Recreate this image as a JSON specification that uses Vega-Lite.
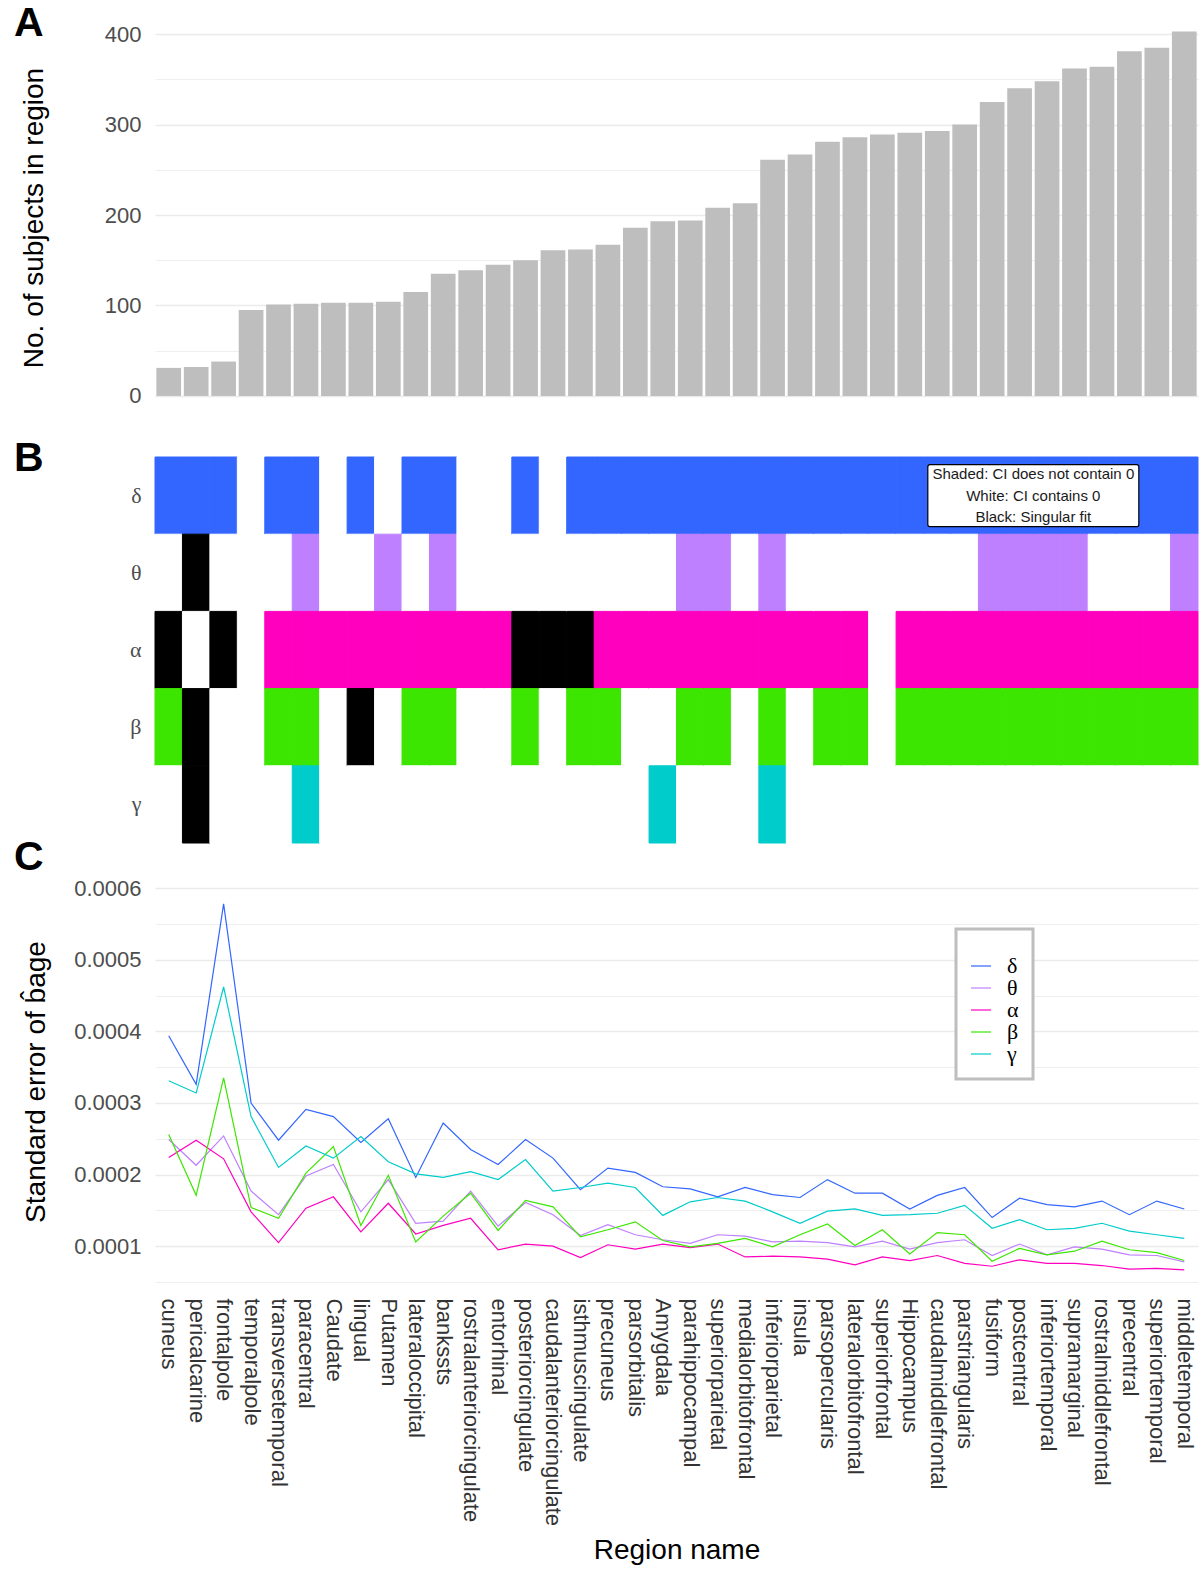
{
"$schema": "https://vega.github.io/schema/vega-lite/v6.json",
"padding": {"left": 14, "top": 2, "right": 3, "bottom": 5},
"bounds": "flush",
"spacing": 38,
"config": {
  "font": "Liberation Sans",
  "view": {"stroke": null, "fill": "#ffffff"},
  "axis": {"domain": false, "ticks": false, "labelFont": "Liberation Sans", "labelFontSize": 22, "labelColor": "#4D4D4D", "titleFont": "Liberation Sans", "titleFontSize": 28, "titleFontWeight": "normal", "titleColor": "#000000", "gridColor": "#EBEBEB"},
  "legend": {"strokeWidth": 3},
  "title": {"font": "Liberation Sans", "fontSize": 41, "fontWeight": "bold", "color": "#000000", "anchor": "start", "frame": "group", "baseline": "alphabetic", "dx": -141}
},
"resolve": {"scale": {"x": "independent", "y": "independent", "color": "independent"}, "legend": {"color": "independent"}},
"datasets": {
"bars": [
{"region":"cuneus","n":31},{"region":"pericalcarine","n":32},{"region":"frontalpole","n":38},{"region":"temporalpole","n":95},{"region":"transversetemporal","n":101},{"region":"paracentral","n":102},{"region":"Caudate","n":103},{"region":"lingual","n":103},{"region":"Putamen","n":104},{"region":"lateraloccipital","n":115},{"region":"bankssts","n":135},{"region":"rostralanteriorcingulate","n":139},{"region":"entorhinal","n":145},{"region":"posteriorcingulate","n":150},{"region":"caudalanteriorcingulate","n":161},{"region":"isthmuscingulate","n":162},{"region":"precuneus","n":167},{"region":"parsorbitalis","n":186},{"region":"Amygdala","n":193},{"region":"parahippocampal","n":194},{"region":"superiorparietal","n":208},{"region":"medialorbitofrontal","n":213},{"region":"inferiorparietal","n":261},{"region":"insula","n":267},{"region":"parsopercularis","n":281},{"region":"lateralorbitofrontal","n":286},{"region":"superiorfrontal","n":289},{"region":"Hippocampus","n":291},{"region":"caudalmiddlefrontal","n":293},{"region":"parstriangularis","n":300},{"region":"fusiform","n":325},{"region":"postcentral","n":340},{"region":"inferiortemporal","n":348},{"region":"supramarginal","n":362},{"region":"rostralmiddlefrontal","n":364},{"region":"precentral","n":381},{"region":"superiortemporal","n":385},{"region":"middletemporal","n":403}
],
"note": [
{"region":"inferiortemporal","band":"δ","note":"Shaded: CI does not contain 0\nWhite: CI contains 0\nBlack: Singular fit"}
],
"main": [
{"region":"cuneus","band":"δ","state":"shaded","se":0.000394},
{"region":"cuneus","band":"θ","state":"white","se":0.000249},
{"region":"cuneus","band":"α","state":"black","se":0.000224},
{"region":"cuneus","band":"β","state":"shaded","se":0.000256},
{"region":"cuneus","band":"γ","state":"white","se":0.000331},
{"region":"pericalcarine","band":"δ","state":"shaded","se":0.000326},
{"region":"pericalcarine","band":"θ","state":"black","se":0.000213},
{"region":"pericalcarine","band":"α","state":"white","se":0.000248},
{"region":"pericalcarine","band":"β","state":"black","se":0.000171},
{"region":"pericalcarine","band":"γ","state":"black","se":0.000314},
{"region":"frontalpole","band":"δ","state":"shaded","se":0.000578},
{"region":"frontalpole","band":"θ","state":"white","se":0.000254},
{"region":"frontalpole","band":"α","state":"black","se":0.000222},
{"region":"frontalpole","band":"β","state":"white","se":0.000335},
{"region":"frontalpole","band":"γ","state":"white","se":0.000462},
{"region":"temporalpole","band":"δ","state":"white","se":0.000300},
{"region":"temporalpole","band":"θ","state":"white","se":0.000177},
{"region":"temporalpole","band":"α","state":"white","se":0.000148},
{"region":"temporalpole","band":"β","state":"white","se":0.000154},
{"region":"temporalpole","band":"γ","state":"white","se":0.000281},
{"region":"transversetemporal","band":"δ","state":"shaded","se":0.000248},
{"region":"transversetemporal","band":"θ","state":"white","se":0.000144},
{"region":"transversetemporal","band":"α","state":"shaded","se":0.000105},
{"region":"transversetemporal","band":"β","state":"shaded","se":0.000139},
{"region":"transversetemporal","band":"γ","state":"white","se":0.000210},
{"region":"paracentral","band":"δ","state":"shaded","se":0.000291},
{"region":"paracentral","band":"θ","state":"shaded","se":0.000198},
{"region":"paracentral","band":"α","state":"shaded","se":0.000153},
{"region":"paracentral","band":"β","state":"shaded","se":0.000202},
{"region":"paracentral","band":"γ","state":"shaded","se":0.000240},
{"region":"Caudate","band":"δ","state":"white","se":0.000281},
{"region":"Caudate","band":"θ","state":"white","se":0.000214},
{"region":"Caudate","band":"α","state":"shaded","se":0.000169},
{"region":"Caudate","band":"β","state":"white","se":0.000239},
{"region":"Caudate","band":"γ","state":"white","se":0.000223},
{"region":"lingual","band":"δ","state":"shaded","se":0.000245},
{"region":"lingual","band":"θ","state":"white","se":0.000148},
{"region":"lingual","band":"α","state":"shaded","se":0.000120},
{"region":"lingual","band":"β","state":"black","se":0.000129},
{"region":"lingual","band":"γ","state":"white","se":0.000253},
{"region":"Putamen","band":"δ","state":"white","se":0.000278},
{"region":"Putamen","band":"θ","state":"shaded","se":0.000193},
{"region":"Putamen","band":"α","state":"shaded","se":0.000160},
{"region":"Putamen","band":"β","state":"white","se":0.000199},
{"region":"Putamen","band":"γ","state":"white","se":0.000218},
{"region":"lateraloccipital","band":"δ","state":"shaded","se":0.000196},
{"region":"lateraloccipital","band":"θ","state":"white","se":0.000132},
{"region":"lateraloccipital","band":"α","state":"shaded","se":0.000117},
{"region":"lateraloccipital","band":"β","state":"shaded","se":0.000106},
{"region":"lateraloccipital","band":"γ","state":"white","se":0.000201},
{"region":"bankssts","band":"δ","state":"shaded","se":0.000272},
{"region":"bankssts","band":"θ","state":"shaded","se":0.000135},
{"region":"bankssts","band":"α","state":"shaded","se":0.000129},
{"region":"bankssts","band":"β","state":"shaded","se":0.000142},
{"region":"bankssts","band":"γ","state":"white","se":0.000196},
{"region":"rostralanteriorcingulate","band":"δ","state":"white","se":0.000235},
{"region":"rostralanteriorcingulate","band":"θ","state":"white","se":0.000177},
{"region":"rostralanteriorcingulate","band":"α","state":"shaded","se":0.000139},
{"region":"rostralanteriorcingulate","band":"β","state":"white","se":0.000174},
{"region":"rostralanteriorcingulate","band":"γ","state":"white","se":0.000204},
{"region":"entorhinal","band":"δ","state":"white","se":0.000214},
{"region":"entorhinal","band":"θ","state":"white","se":0.000128},
{"region":"entorhinal","band":"α","state":"shaded","se":0.000095},
{"region":"entorhinal","band":"β","state":"white","se":0.000122},
{"region":"entorhinal","band":"γ","state":"white","se":0.000193},
{"region":"posteriorcingulate","band":"δ","state":"shaded","se":0.000249},
{"region":"posteriorcingulate","band":"θ","state":"white","se":0.000161},
{"region":"posteriorcingulate","band":"α","state":"black","se":0.000103},
{"region":"posteriorcingulate","band":"β","state":"shaded","se":0.000164},
{"region":"posteriorcingulate","band":"γ","state":"white","se":0.000221},
{"region":"caudalanteriorcingulate","band":"δ","state":"white","se":0.000223},
{"region":"caudalanteriorcingulate","band":"θ","state":"white","se":0.000144},
{"region":"caudalanteriorcingulate","band":"α","state":"black","se":0.000100},
{"region":"caudalanteriorcingulate","band":"β","state":"white","se":0.000155},
{"region":"caudalanteriorcingulate","band":"γ","state":"white","se":0.000177},
{"region":"isthmuscingulate","band":"δ","state":"shaded","se":0.000179},
{"region":"isthmuscingulate","band":"θ","state":"white","se":0.000115},
{"region":"isthmuscingulate","band":"α","state":"black","se":0.000084},
{"region":"isthmuscingulate","band":"β","state":"shaded","se":0.000113},
{"region":"isthmuscingulate","band":"γ","state":"white","se":0.000182},
{"region":"precuneus","band":"δ","state":"shaded","se":0.000209},
{"region":"precuneus","band":"θ","state":"white","se":0.000130},
{"region":"precuneus","band":"α","state":"shaded","se":0.000102},
{"region":"precuneus","band":"β","state":"shaded","se":0.000123},
{"region":"precuneus","band":"γ","state":"white","se":0.000188},
{"region":"parsorbitalis","band":"δ","state":"shaded","se":0.000203},
{"region":"parsorbitalis","band":"θ","state":"white","se":0.000116},
{"region":"parsorbitalis","band":"α","state":"shaded","se":0.000096},
{"region":"parsorbitalis","band":"β","state":"white","se":0.000134},
{"region":"parsorbitalis","band":"γ","state":"white","se":0.000182},
{"region":"Amygdala","band":"δ","state":"shaded","se":0.000183},
{"region":"Amygdala","band":"θ","state":"white","se":0.000109},
{"region":"Amygdala","band":"α","state":"shaded","se":0.000103},
{"region":"Amygdala","band":"β","state":"white","se":0.000108},
{"region":"Amygdala","band":"γ","state":"shaded","se":0.000143},
{"region":"parahippocampal","band":"δ","state":"shaded","se":0.000180},
{"region":"parahippocampal","band":"θ","state":"shaded","se":0.000104},
{"region":"parahippocampal","band":"α","state":"shaded","se":0.000098},
{"region":"parahippocampal","band":"β","state":"shaded","se":0.000099},
{"region":"parahippocampal","band":"γ","state":"white","se":0.000162},
{"region":"superiorparietal","band":"δ","state":"shaded","se":0.000169},
{"region":"superiorparietal","band":"θ","state":"shaded","se":0.000116},
{"region":"superiorparietal","band":"α","state":"shaded","se":0.000103},
{"region":"superiorparietal","band":"β","state":"shaded","se":0.000104},
{"region":"superiorparietal","band":"γ","state":"white","se":0.000168},
{"region":"medialorbitofrontal","band":"δ","state":"shaded","se":0.000182},
{"region":"medialorbitofrontal","band":"θ","state":"white","se":0.000114},
{"region":"medialorbitofrontal","band":"α","state":"shaded","se":0.000085},
{"region":"medialorbitofrontal","band":"β","state":"white","se":0.000111},
{"region":"medialorbitofrontal","band":"γ","state":"white","se":0.000163},
{"region":"inferiorparietal","band":"δ","state":"shaded","se":0.000172},
{"region":"inferiorparietal","band":"θ","state":"shaded","se":0.000106},
{"region":"inferiorparietal","band":"α","state":"shaded","se":0.000086},
{"region":"inferiorparietal","band":"β","state":"shaded","se":0.000099},
{"region":"inferiorparietal","band":"γ","state":"shaded","se":0.000148},
{"region":"insula","band":"δ","state":"shaded","se":0.000168},
{"region":"insula","band":"θ","state":"white","se":0.000107},
{"region":"insula","band":"α","state":"shaded","se":0.000085},
{"region":"insula","band":"β","state":"white","se":0.000116},
{"region":"insula","band":"γ","state":"white","se":0.000132},
{"region":"parsopercularis","band":"δ","state":"shaded","se":0.000193},
{"region":"parsopercularis","band":"θ","state":"white","se":0.000105},
{"region":"parsopercularis","band":"α","state":"shaded","se":0.000082},
{"region":"parsopercularis","band":"β","state":"shaded","se":0.000131},
{"region":"parsopercularis","band":"γ","state":"white","se":0.000149},
{"region":"lateralorbitofrontal","band":"δ","state":"shaded","se":0.000174},
{"region":"lateralorbitofrontal","band":"θ","state":"white","se":0.000099},
{"region":"lateralorbitofrontal","band":"α","state":"shaded","se":0.000074},
{"region":"lateralorbitofrontal","band":"β","state":"shaded","se":0.000101},
{"region":"lateralorbitofrontal","band":"γ","state":"white","se":0.000152},
{"region":"superiorfrontal","band":"δ","state":"shaded","se":0.000174},
{"region":"superiorfrontal","band":"θ","state":"white","se":0.000107},
{"region":"superiorfrontal","band":"α","state":"white","se":0.000085},
{"region":"superiorfrontal","band":"β","state":"white","se":0.000123},
{"region":"superiorfrontal","band":"γ","state":"white","se":0.000143},
{"region":"Hippocampus","band":"δ","state":"shaded","se":0.000152},
{"region":"Hippocampus","band":"θ","state":"white","se":0.000096},
{"region":"Hippocampus","band":"α","state":"shaded","se":0.000080},
{"region":"Hippocampus","band":"β","state":"shaded","se":0.000089},
{"region":"Hippocampus","band":"γ","state":"white","se":0.000144},
{"region":"caudalmiddlefrontal","band":"δ","state":"shaded","se":0.000171},
{"region":"caudalmiddlefrontal","band":"θ","state":"white","se":0.000105},
{"region":"caudalmiddlefrontal","band":"α","state":"shaded","se":0.000087},
{"region":"caudalmiddlefrontal","band":"β","state":"shaded","se":0.000119},
{"region":"caudalmiddlefrontal","band":"γ","state":"white","se":0.000146},
{"region":"parstriangularis","band":"δ","state":"shaded","se":0.000182},
{"region":"parstriangularis","band":"θ","state":"white","se":0.000109},
{"region":"parstriangularis","band":"α","state":"shaded","se":0.000076},
{"region":"parstriangularis","band":"β","state":"shaded","se":0.000116},
{"region":"parstriangularis","band":"γ","state":"white","se":0.000157},
{"region":"fusiform","band":"δ","state":"shaded","se":0.000140},
{"region":"fusiform","band":"θ","state":"shaded","se":0.000087},
{"region":"fusiform","band":"α","state":"shaded","se":0.000072},
{"region":"fusiform","band":"β","state":"shaded","se":0.000079},
{"region":"fusiform","band":"γ","state":"white","se":0.000125},
{"region":"postcentral","band":"δ","state":"shaded","se":0.000167},
{"region":"postcentral","band":"θ","state":"shaded","se":0.000103},
{"region":"postcentral","band":"α","state":"shaded","se":0.000081},
{"region":"postcentral","band":"β","state":"shaded","se":0.000097},
{"region":"postcentral","band":"γ","state":"white","se":0.000137},
{"region":"inferiortemporal","band":"δ","state":"shaded","se":0.000158},
{"region":"inferiortemporal","band":"θ","state":"shaded","se":0.000088},
{"region":"inferiortemporal","band":"α","state":"shaded","se":0.000076},
{"region":"inferiortemporal","band":"β","state":"shaded","se":0.000088},
{"region":"inferiortemporal","band":"γ","state":"white","se":0.000123},
{"region":"supramarginal","band":"δ","state":"shaded","se":0.000155},
{"region":"supramarginal","band":"θ","state":"shaded","se":0.000099},
{"region":"supramarginal","band":"α","state":"shaded","se":0.000076},
{"region":"supramarginal","band":"β","state":"shaded","se":0.000093},
{"region":"supramarginal","band":"γ","state":"white","se":0.000125},
{"region":"rostralmiddlefrontal","band":"δ","state":"shaded","se":0.000163},
{"region":"rostralmiddlefrontal","band":"θ","state":"white","se":0.000096},
{"region":"rostralmiddlefrontal","band":"α","state":"shaded","se":0.000073},
{"region":"rostralmiddlefrontal","band":"β","state":"shaded","se":0.000107},
{"region":"rostralmiddlefrontal","band":"γ","state":"white","se":0.000132},
{"region":"precentral","band":"δ","state":"shaded","se":0.000144},
{"region":"precentral","band":"θ","state":"white","se":0.000088},
{"region":"precentral","band":"α","state":"shaded","se":0.000068},
{"region":"precentral","band":"β","state":"shaded","se":0.000095},
{"region":"precentral","band":"γ","state":"white","se":0.000121},
{"region":"superiortemporal","band":"δ","state":"shaded","se":0.000163},
{"region":"superiortemporal","band":"θ","state":"white","se":0.000087},
{"region":"superiortemporal","band":"α","state":"shaded","se":0.000069},
{"region":"superiortemporal","band":"β","state":"shaded","se":0.000091},
{"region":"superiortemporal","band":"γ","state":"white","se":0.000116},
{"region":"middletemporal","band":"δ","state":"shaded","se":0.000152},
{"region":"middletemporal","band":"θ","state":"shaded","se":0.000078},
{"region":"middletemporal","band":"α","state":"shaded","se":0.000067},
{"region":"middletemporal","band":"β","state":"shaded","se":0.000080},
{"region":"middletemporal","band":"γ","state":"white","se":0.000111}
]
},
"vconcat": [
{
 "title": {"text": "A", "offset": -28.8},
 "width": 1043, "height": 403,
 "data": {"name": "bars"},
 "mark": {"type": "bar", "color": "#BEBEBE"},
 "encoding": {
  "x": {"field": "region", "type": "nominal", "scale": {"domain": ["cuneus","pericalcarine","frontalpole","temporalpole","transversetemporal","paracentral","Caudate","lingual","Putamen","lateraloccipital","bankssts","rostralanteriorcingulate","entorhinal","posteriorcingulate","caudalanteriorcingulate","isthmuscingulate","precuneus","parsorbitalis","Amygdala","parahippocampal","superiorparietal","medialorbitofrontal","inferiorparietal","insula","parsopercularis","lateralorbitofrontal","superiorfrontal","Hippocampus","caudalmiddlefrontal","parstriangularis","fusiform","postcentral","inferiortemporal","supramarginal","rostralmiddlefrontal","precentral","superiortemporal","middletemporal"], "paddingInner": 0.1, "paddingOuter": 0.05}, "axis": null},
  "y": {"field": "n", "type": "quantitative", "scale": {"domain": [-25.5, 420], "nice": false, "zero": false},
        "axis": {"values": [0,50,100,150,200,250,300,350,400], "labelExpr": "datum.value % 100 === 0 ? datum.label : ''", "gridWidth": {"condition": {"test": "datum.value % 100 === 0", "value": 1.6}, "value": 0.8}, "labelPadding": 14, "minExtent": 51, "maxExtent": 51, "titlePadding": 56, "title": "No. of subjects in region"}},
  "y2": {"datum": 0}
 }
},
{
 "title": {"text": "B", "offset": -23.6},
 "width": 1043, "height": 386,
 "layer": [
  {
   "data": {"name": "main"},
   "mark": {"type": "rect", "strokeWidth": 1},
   "encoding": {
    "x": {"field": "region", "type": "nominal", "scale": {"domain": ["cuneus","pericalcarine","frontalpole","temporalpole","transversetemporal","paracentral","Caudate","lingual","Putamen","lateraloccipital","bankssts","rostralanteriorcingulate","entorhinal","posteriorcingulate","caudalanteriorcingulate","isthmuscingulate","precuneus","parsorbitalis","Amygdala","parahippocampal","superiorparietal","medialorbitofrontal","inferiorparietal","insula","parsopercularis","lateralorbitofrontal","superiorfrontal","Hippocampus","caudalmiddlefrontal","parstriangularis","fusiform","postcentral","inferiortemporal","supramarginal","rostralmiddlefrontal","precentral","superiortemporal","middletemporal"], "paddingInner": 0, "paddingOuter": 0}, "axis": null},
    "y": {"field": "band", "type": "nominal", "scale": {"domain": ["δ","θ","α","β","γ"], "paddingInner": 0, "paddingOuter": 0}, "axis": {"title": null, "labelFont": "Liberation Serif", "labelFontSize": 22, "labelPadding": 14, "grid": false}},
    "color": {"condition": [{"test": "datum.state === 'black'", "value": "#000000"}, {"test": "datum.state === 'white'", "value": "#FFFFFF"}], "field": "band", "type": "nominal", "scale": {"domain": ["δ","θ","α","β","γ"], "range": ["#3366FF","#BF80FF","#FF00BF","#3DE600","#00CCCC"]}, "legend": null},
    "stroke": {"condition": [{"test": "datum.state === 'black'", "value": "#000000"}, {"test": "datum.state === 'white'", "value": "#FFFFFF"}], "field": "band", "type": "nominal", "scale": {"domain": ["δ","θ","α","β","γ"], "range": ["#3366FF","#BF80FF","#FF00BF","#3DE600","#00CCCC"]}, "legend": null}
   }
  },
  {
   "data": {"name": "note"},
   "mark": {"type": "point", "shape": "M-0.98,-0.294H0.98Q1,-0.294,1,-0.274V0.274Q1,0.294,0.98,0.294H-0.98Q-1,0.294,-1,0.274V-0.274Q-1,-0.294,-0.98,-0.294Z", "size": 44521, "filled": true, "fill": "#FFFFFF", "stroke": "#000000", "strokeWidth": 1.2, "opacity": 1, "fillOpacity": 1},
   "encoding": {
    "x": {"field": "region", "type": "nominal", "bandPosition": 0},
    "y": {"field": "band", "type": "nominal"}
   }
  },
  {
   "data": {"name": "note"},
   "mark": {"type": "text", "fontSize": 15, "lineBreak": "\n", "lineHeight": 21.3, "align": "center", "baseline": "middle", "dy": -21.3, "color": "#1A1A1A"},
   "encoding": {
    "x": {"field": "region", "type": "nominal", "bandPosition": 0},
    "y": {"field": "band", "type": "nominal"},
    "text": {"field": "note"}
   }
  }
 ]
},
{
 "title": {"text": "C", "offset": -1.6},
 "width": 1043, "height": 401,
 "data": {"name": "main"},
 "mark": {"type": "line", "strokeWidth": 1.2},
 "encoding": {
  "x": {"field": "region", "type": "nominal", "scale": {"domain": ["cuneus","pericalcarine","frontalpole","temporalpole","transversetemporal","paracentral","Caudate","lingual","Putamen","lateraloccipital","bankssts","rostralanteriorcingulate","entorhinal","posteriorcingulate","caudalanteriorcingulate","isthmuscingulate","precuneus","parsorbitalis","Amygdala","parahippocampal","superiorparietal","medialorbitofrontal","inferiorparietal","insula","parsopercularis","lateralorbitofrontal","superiorfrontal","Hippocampus","caudalmiddlefrontal","parstriangularis","fusiform","postcentral","inferiortemporal","supramarginal","rostralmiddlefrontal","precentral","superiortemporal","middletemporal"], "paddingInner": 0, "paddingOuter": 0},
        "axis": {"labelAngle": 90, "labelPadding": 16, "labelLimit": 400, "labelColor": "#333333", "grid": false, "minExtent": 246, "maxExtent": 246, "title": "Region name", "titlePadding": 8}},
  "y": {"field": "se", "type": "quantitative", "scale": {"domain": [0.00005, 0.00061], "nice": false, "zero": false},
        "axis": {"values": [0.00005,0.0001,0.00015,0.0002,0.00025,0.0003,0.00035,0.0004,0.00045,0.0005,0.00055,0.0006], "labelExpr": "round(datum.value*100000) % 2 === 0 ? format(datum.value, '.4f') : ''", "gridWidth": {"condition": {"test": "round(datum.value*100000) % 2 === 0", "value": 1.6}, "value": 0.8}, "labelPadding": 14, "minExtent": 82, "maxExtent": 82, "titlePadding": 23, "title": "Standard error of b̂age"}},
  "color": {"field": "band", "type": "nominal", "scale": {"domain": ["δ","θ","α","β","γ"], "range": ["#3366FF","#BF80FF","#FF00BF","#3DE600","#00CCCC"]},
            "legend": {"orient": "none", "legendX": 801, "legendY": 48, "title": " ", "titleFontSize": 8, "titlePadding": 4, "padding": 14, "fillColor": "#FFFFFF", "strokeColor": "#BEBEBE", "symbolType": "stroke", "symbolSize": 400, "symbolStrokeWidth": 1.2, "labelFont": "Liberation Serif", "labelFontSize": 22, "labelColor": "#000000", "labelOffset": 15, "rowPadding": 0}}
 }
}
]
}
